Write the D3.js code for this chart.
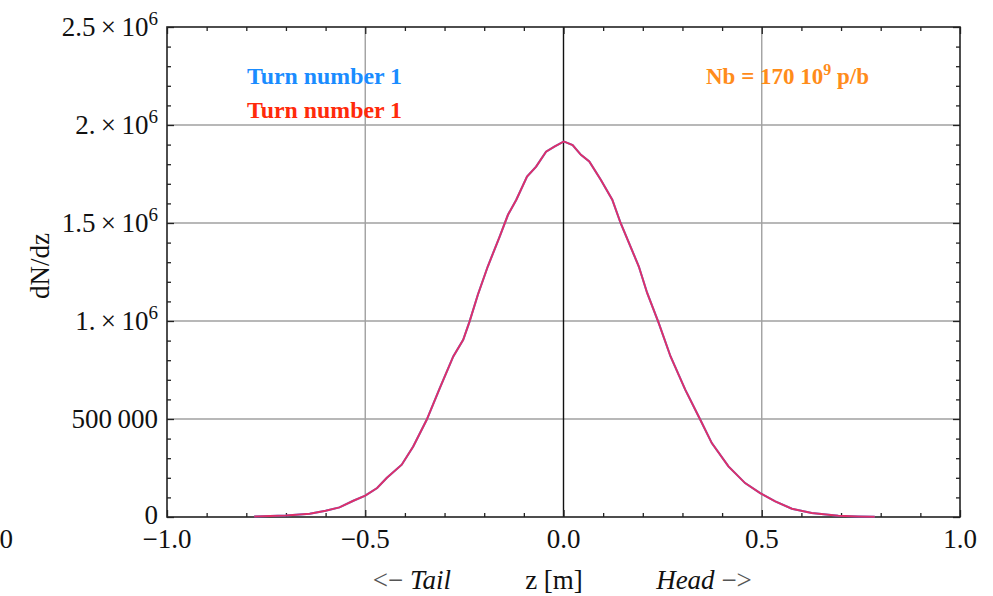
<!DOCTYPE html>
<html>
<head>
<meta charset="utf-8">
<script src="https://cdn.jsdelivr.net/npm/d3@7"></script>
<style>
  html, body { margin: 0; padding: 0; background: #fff; }
  svg { display: block; }
  text { font-family: "Liberation Serif", "Times New Roman", serif; fill: #111; }
</style>
</head>
<body>
<svg id="chart" width="993" height="596"></svg>
<script>
// ---- data ----
const zValues = [-0.78, -0.70, -0.64, -0.60, -0.565, -0.53, -0.50, -0.47, -0.446, -0.408, -0.379, -0.345,
  -0.312, -0.278, -0.253, -0.237, -0.216, -0.191, -0.161, -0.140, -0.119, -0.092, -0.069, -0.044, -0.023, 0.0,
  0.002, 0.023, 0.044, 0.065, 0.094, 0.123, 0.144, 0.190, 0.211, 0.240, 0.270, 0.307, 0.345, 0.374, 0.416,
  0.458, 0.496, 0.534, 0.576, 0.626, 0.693, 0.744, 0.785];
const turn1Blue = [3000, 8000, 17000, 32000, 49000, 83000, 109000, 148000, 199000, 267000, 360000, 496000,
  658000, 819000, 904000, 997000, 1134000, 1278000, 1431000, 1542000, 1619000, 1737000, 1788000, 1864000, 1890000, 1915000,
  1915000, 1898000, 1848000, 1814000, 1721000, 1619000, 1500000, 1278000, 1143000, 990000, 819000, 650000, 496000, 377000, 258000,
  173000, 122000, 80000, 42000, 20000, 7000, 3000, 1000];
const turn1Red = turn1Blue.slice();
const xMajorTicks = [-1.0, -0.5, 0.0, 0.5, 1.0];
const xTickLabels = ["\u22121.0", "\u22120.5", "0.0", "0.5", "1.0"];
const yMajorTicks = [0, 500000, 1000000, 1500000, 2000000, 2500000];
const yTickMantissa = ["0", "500\u2009000", "1.", "1.5", "2.", "2.5"];
const yTickExponent = [null, null, "6", "6", "6", "6"];
const legendLabels = ["Turn number 1", "Turn number 1"];

// ---- layout ----
const L = 167, R = 960, T = 27, B = 517;
const svg = d3.select("#chart");
const x = d3.scaleLinear().domain([-1, 1]).range([L, R]);
const y = d3.scaleLinear().domain([0, 2500000]).range([B, T]);

const xMinor = d3.range(-10, 11).map(i => i / 10).filter(v => !xMajorTicks.some(m => Math.abs(m - v) < 1e-9));
const yMinor = d3.range(0, 26).map(i => i * 100000).filter(v => v % 500000 !== 0);

// gridlines
const grid = svg.append("g");
grid.selectAll("line.gx").data([-0.5, 0.5]).join("line")
  .attr("x1", d => x(d)).attr("x2", d => x(d)).attr("y1", T).attr("y2", B)
  .attr("stroke", "#a0a0a0").attr("stroke-width", 1.4);
grid.selectAll("line.gy").data([500000, 1000000, 1500000, 2000000]).join("line")
  .attr("x1", L).attr("x2", R).attr("y1", d => y(d)).attr("y2", d => y(d))
  .attr("stroke", "#a0a0a0").attr("stroke-width", 1.4);
grid.append("line").attr("x1", x(0)).attr("x2", x(0)).attr("y1", T).attr("y2", B)
  .attr("stroke", "#111").attr("stroke-width", 1.4);

// axes (inward ticks)
function styleAxis(g) {
  g.select(".domain").remove();
  g.selectAll(".tick line").attr("stroke", "#222").attr("stroke-width", 1.3);
  g.selectAll(".tick text").remove();
}
svg.append("g").attr("transform", `translate(0,${B})`).call(d3.axisBottom(x).tickValues(xMajorTicks).tickSize(-7)).call(styleAxis);
svg.append("g").attr("transform", `translate(0,${B})`).call(d3.axisBottom(x).tickValues(xMinor).tickSize(-4)).call(styleAxis);
svg.append("g").attr("transform", `translate(0,${T})`).call(d3.axisTop(x).tickValues(xMajorTicks).tickSize(-7)).call(styleAxis);
svg.append("g").attr("transform", `translate(0,${T})`).call(d3.axisTop(x).tickValues(xMinor).tickSize(-4)).call(styleAxis);
svg.append("g").attr("transform", `translate(${L},0)`).call(d3.axisLeft(y).tickValues(yMajorTicks).tickSize(-7)).call(styleAxis);
svg.append("g").attr("transform", `translate(${L},0)`).call(d3.axisLeft(y).tickValues(yMinor).tickSize(-4)).call(styleAxis);
svg.append("g").attr("transform", `translate(${R},0)`).call(d3.axisRight(y).tickValues(yMajorTicks).tickSize(-7)).call(styleAxis);
svg.append("g").attr("transform", `translate(${R},0)`).call(d3.axisRight(y).tickValues(yMinor).tickSize(-4)).call(styleAxis);

// frame
svg.append("rect").attr("x", L).attr("y", T).attr("width", R - L).attr("height", B - T)
  .attr("fill", "none").attr("stroke", "#222").attr("stroke-width", 1.6);

// x tick labels
svg.selectAll("text.xl").data(xMajorTicks).join("text")
  .attr("x", d => x(d)).attr("y", 548).attr("text-anchor", "middle")
  .attr("font-size", 27).text((d, i) => xTickLabels[i]);
svg.append("text").attr("x", 13).attr("y", 548).attr("text-anchor", "end").attr("font-size", 27).text("0");

// y tick labels
yMajorTicks.forEach((v, i) => {
  const t = svg.append("text").attr("x", 158).attr("y", y(v) + (v === 0 ? 7 : 9)).attr("text-anchor", "end").attr("font-size", 27);
  if (yTickExponent[i]) {
    t.append("tspan").text(yTickMantissa[i] + "\u2009\u00d7\u200910");
    t.append("tspan").attr("font-size", 19).attr("dy", -11).text(yTickExponent[i]);
  } else {
    t.text(yTickMantissa[i]);
  }
});

// axis titles
svg.append("text").attr("transform", "translate(49,266) rotate(-90)").attr("text-anchor", "middle")
  .attr("font-size", 27).text("dN/dz");
const bt = svg.append("g").attr("font-size", 27);
bt.append("text").attr("x", 412).attr("y", 589).attr("text-anchor", "middle")
  .html('<tspan fill="#555">&lt;\u2212</tspan> <tspan font-style="italic">Tail</tspan>');
bt.append("text").attr("x", 554).attr("y", 589).attr("text-anchor", "middle").text("z [m]");
bt.append("text").attr("x", 704).attr("y", 589).attr("text-anchor", "middle")
  .html('<tspan font-style="italic">Head</tspan> <tspan fill="#555">\u2212&gt;</tspan>');

// curves
const line = d3.line().x((d, i) => x(zValues[i])).y(d => y(d)).curve(d3.curveLinear);
svg.append("path").datum(turn1Blue).attr("d", line).attr("fill", "none")
  .attr("stroke", "#1a8cff").attr("stroke-width", 2);
svg.append("path").datum(turn1Red).attr("d", line).attr("fill", "none")
  .attr("stroke", "#ff2050").attr("stroke-width", 2).attr("stroke-opacity", 0.86);

// legend texts
const legendColors = ["#1a8cff", "#ff2a0a"];
legendLabels.forEach((lab, i) => {
  svg.append("text").attr("x", 247).attr("y", 84 + i * 34).attr("font-size", 23).attr("font-weight", "bold")
    .attr("textLength", 155).attr("lengthAdjust", "spacingAndGlyphs")
    .style("fill", legendColors[i]).text(lab);
});
const nb = svg.append("text").attr("x", 706).attr("y", 84).attr("font-size", 23).attr("font-weight", "bold")
  .style("fill", "#ff8c1a");
nb.append("tspan").text("Nb = 170 10");
nb.append("tspan").attr("font-size", 16).attr("dy", -9).text("9");
nb.append("tspan").attr("dy", 9).text(" p/b");
</script>
</body>
</html>
